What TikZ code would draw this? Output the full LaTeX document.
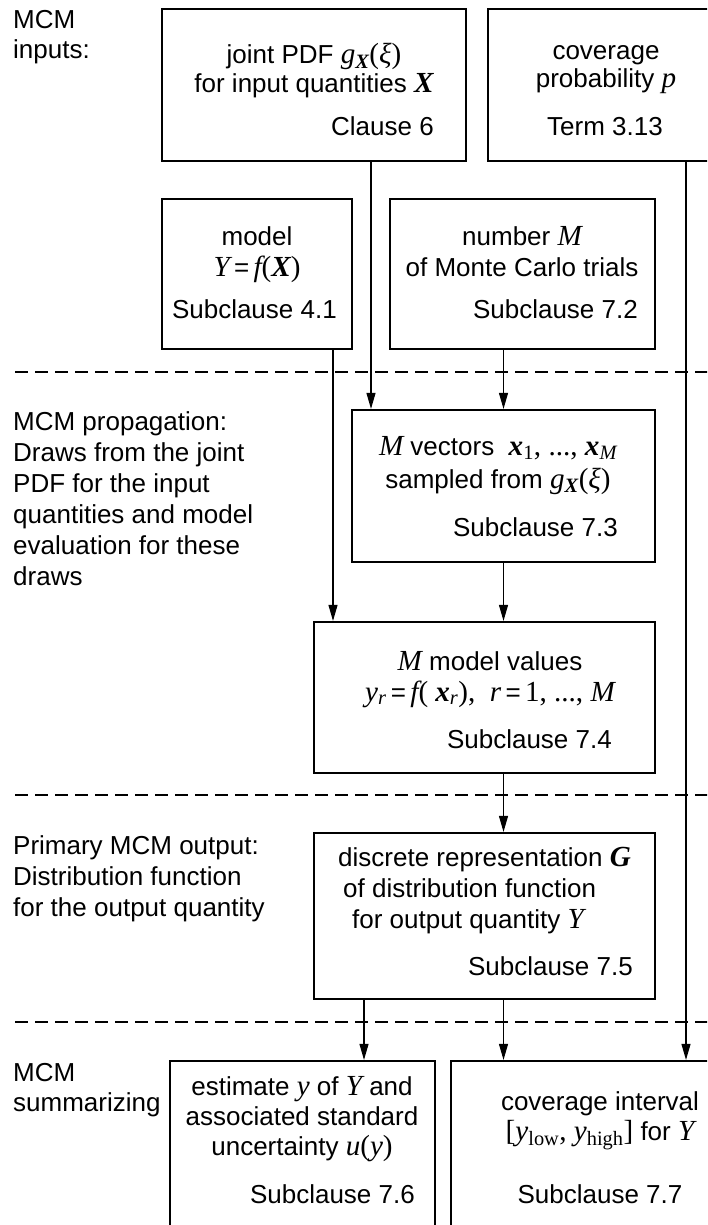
\documentclass[tikz,border=0pt]{standalone}
\usepackage{fontspec}
\setmainfont{Liberation Sans}
\newfontfamily\timesf[Scale=1.12]{Liberation Serif}
\newcommand{\vi}[1]{{\timesf\itshape #1}}
\newcommand{\vb}[1]{{\timesf\bfseries\itshape #1}}
\newcommand{\vn}[1]{{\timesf #1}}
\usetikzlibrary{fit, arrows.meta}

\begin{document}
\begin{tikzpicture}[x=1pt, y=-1pt,
  font=\fontsize{26}{31}\selectfont,
  blk/.style={draw, line width=2.2pt, inner sep=0pt},
  arr/.style={line width=1.1pt, -{Triangle[length=16pt, width=9pt]}},
  sep/.style={line width=1.1pt, dash pattern=on 13pt off 7pt},
  txt/.style={inner sep=0pt, anchor=base, align=center},
  ref/.style={inner sep=0pt, anchor=base east},
  side/.style={inner sep=0pt, anchor=base west, align=left}]
\useasboundingbox (0,0) rectangle (707,1225);
\clip (0,0) rectangle (707,1225);

% boxes
\node[blk, fit={(162,9) (466,161)}] (pdf) {};
\node[blk, fit={(488,9) (725,161)}] (cov) {};
\node[blk, fit={(162,199) (352,349)}] (model) {};
\node[blk, fit={(390,199) (655,349)}] (trials) {};
\node[blk, fit={(352,410) (655,562)}] (vec) {};
\node[blk, fit={(314,622) (655,773)}] (val) {};
\node[blk, fit={(314,833) (655,999)}] (dist) {};
\node[blk, fit={(170,1061) (435,1260)}] (est) {};
\node[blk, fit={(451,1061) (750,1260)}] (ci) {};

% box texts (base = last line)
\node[txt] (pdf-t) at (314,93) {joint PDF \vi{g}\textsubscript{\vb{X}}\vn{(}\vi{ξ}\vn{)}\\[-2pt]
  for input quantities \vb{X}};
\node[ref] (pdf-r) at (434,136) {Clause 6};
\node[txt] (cov-t) at (606,88) {coverage\\[-3pt]probability \vi{p}};
\node[txt] (cov-r) at (605,136) {Term 3.13};
\node[txt] (model-t) at (257,276) {model\\\vi{Y}\,=\,\vi{f}\vn{(}\vb{X}\vn{)}};
\node[ref] (model-r) at (337,318) {Subclause 4.1};
\node[txt] (trials-t) at (522,276) {number \vi{M}\\of Monte Carlo trials};
\node[ref] (trials-r) at (638,318) {Subclause 7.2};
\node[txt] (vec-t) at (498,488) {\vi{M} vectors\ \ \vb{x}\textsubscript{\vn{1}}\vn{, ..., }\vb{x}\textsubscript{\vi{M}}\\[2pt]
  sampled from \vi{g}\textsubscript{\vb{X}}\vn{(}\vi{ξ}\vn{)}};
\node[ref] (vec-r) at (618,536) {Subclause 7.3};
\node[txt] (val-t) at (490,701) {\vi{M} model values\\
  \vi{y}\textsubscript{\vi{r}}\,=\,\vi{f}\vn{(} \vb{x}\textsubscript{\vi{r}}\vn{),}\ \ \vi{r}\,=\,\vn{1, ..., }\vi{M}};
\node[ref] (val-r) at (612,748) {Subclause 7.4};
\node[side] (dist-t) at (338,928) {discrete representation \vb{G}\\
  \hspace{5pt}of distribution function\\
  \hspace{14pt}for output quantity \vi{Y}};
\node[ref] (dist-r) at (633,975) {Subclause 7.5};
\node[txt] (est-t) at (302,1155) {estimate \vi{y} of \vi{Y} and\\[-1pt]
  associated standard\\[-1pt]uncertainty \vi{u}\vn{(}\vi{y}\vn{)}};
\node[ref] (est-r) at (415,1203) {Subclause 7.6};
\node[txt] (ci-t) at (600,1140) {coverage interval\\[-1pt]
  \vn{[}\vi{y}\textsubscript{\vn{low}}\vn{,} \vi{y}\textsubscript{\vn{high}}\vn{]} for \vi{Y}};
\node[txt] (ci-r) at (600,1203) {Subclause 7.7};

% stage labels
\node[side] (inputs) at (13,59) {MCM\\[-1pt]inputs:};
\node[side] (prop) at (13,585) {MCM propagation:\\Draws from the joint\\PDF for the input\\
  quantities and model\\evaluation for these\\draws};
\node[side] (primary) at (13,916) {Primary MCM output:\\Distribution function\\for the output quantity};
\node[side] (summ) at (13,1111) {MCM\\[-1pt]summarizing};

% stage separators
\draw[sep] (15,372) -- (720,372);
\draw[sep] (15,795) -- (720,795);
\draw[sep] (15,1022) -- (720,1022);

% connectors
\draw[arr] (pdf.south -| 371,0) -- (vec.north -| 371,0);
\draw[arr] (trials.south -| vec.north) -- (vec.north);
\draw[arr] (model.south -| 333,0) -- (val.north -| 333,0);
\draw[arr] (vec.south) -- (vec.south |- val.north);
\draw[arr] (val.south -| vec.south) -- (dist.north -| vec.south);
\draw[arr] (dist.south -| 364,0) -- (est.north -| 364,0);
\draw[arr] (dist.south -| vec.south) -- (ci.north -| vec.south);
\draw[arr] (cov.south -| 686,0) -- (ci.north -| 686,0);
\end{tikzpicture}
\end{document}
